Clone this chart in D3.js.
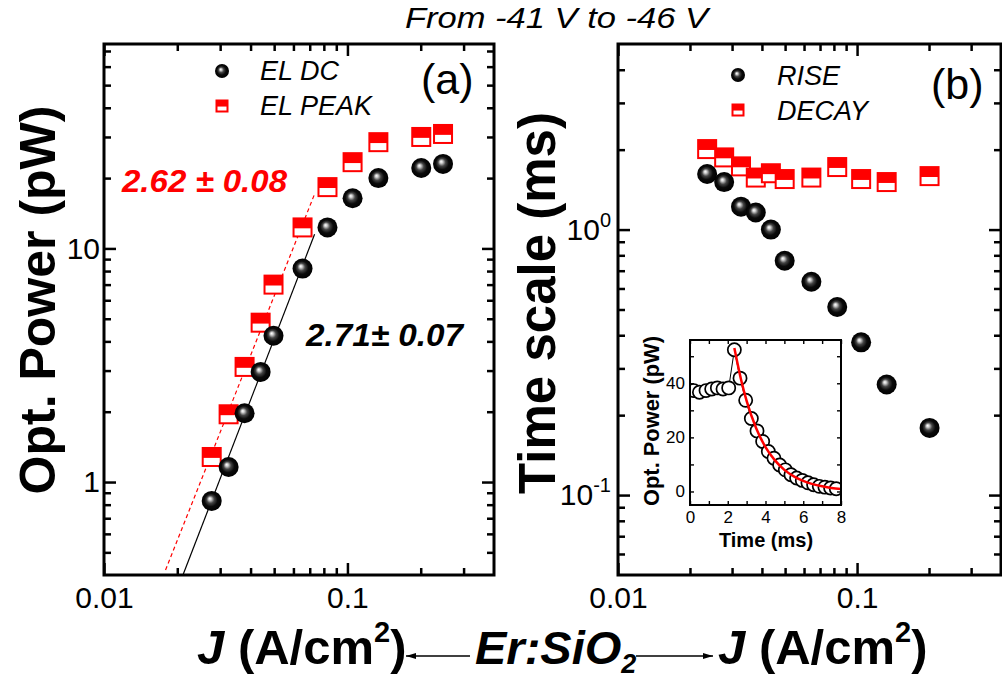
<!doctype html>
<html lang="en">
<head>
<meta charset="utf-8">
<script src="https://cdn.jsdelivr.net/npm/d3@7"></script>
<title>Er:SiO2 - EL power and time scales vs J</title>
<style>
  body { margin: 0; background: #fff; }
  svg { display: block; font-family: "Liberation Sans", Arial, Helvetica, sans-serif; }
  .frame { fill: none; stroke: #000; stroke-width: 3; }
  .ax .tick line { stroke: #000; stroke-width: 2.5; }
  .ax .tick text { font-size: 30px; fill: #000; font-family: "Liberation Sans", Arial, sans-serif; }
  .inax .tick line { stroke: #000; stroke-width: 1.4; }
  .inax .tick text { font-size: 17px; fill: #000; font-family: "Liberation Sans", Arial, sans-serif; }
</style>
</head>
<body>
<div id="chart"></div>
<script>
// ---- panel (a): optical power vs J
const jA     = [0.0277, 0.0325, 0.0378, 0.044, 0.0497, 0.0654, 0.0828, 0.105, 0.134, 0.201, 0.247];
const elDC   = [0.83, 1.16, 1.97, 2.96, 4.23, 8.2, 12.3, 16.4, 20.0, 22.1, 23.0];
const elPeak = [1.28, 1.95, 3.11, 4.81, 7.0, 12.3, 18.3, 23.4, 28.5, 30.0, 30.9];
// power-law fits, end points
const fitDC   = [[0.0211, 0.40], [0.0733, 11.5]];
const fitPeak = [[0.0179, 0.42], [0.0733, 17.1]];

// ---- panel (b): time scales vs J
const jB    = [0.0236, 0.0278, 0.0327, 0.0377, 0.0436, 0.0498, 0.0644, 0.0826, 0.104, 0.133, 0.201];
const rise  = [1.62, 1.51, 1.22, 1.16, 1.0, 0.763, 0.636, 0.511, 0.376, 0.261, 0.179];
const decay = [2.01, 1.87, 1.73, 1.57, 1.63, 1.55, 1.57, 1.72, 1.55, 1.51, 1.59];

// ---- inset: transient
const tIn = [0.2, 0.5, 0.85, 1.15, 1.45, 1.75, 2.05, 2.35, 2.65, 2.95, 3.25, 3.55, 3.85, 4.15,
             4.45, 4.75, 5.05, 5.35, 5.65, 5.95, 6.25, 6.55, 6.85, 7.15, 7.45, 7.75];
const pIn = [37.3, 36.7, 37.3, 37.9, 38.3, 37.9, 38.3, 52.4, 41.9, 33.7, 27.0, 22.4, 18.5, 14.8,
             12.3, 9.8, 8.0, 6.2, 5.0, 4.1, 3.2, 2.5, 1.9, 1.6, 1.3, 1.0];
const tFit = [2.35, 2.7, 3.0, 3.5, 4.0, 4.5, 5.0, 5.5, 6.0, 6.5, 7.0, 7.5, 8.0];
const pFit = [53, 41.5, 33.5, 23.5, 16.4, 11.5, 8.0, 5.6, 3.9, 2.7, 1.9, 1.3, 0.95];

// tick labels
const jLabels = [0.01, 0.1];
const aYLabels = [1, 10];
const bYLabels = [0.1, 1];
const inXLabels = [0, 2, 4, 6, 8];
const inYLabels = [0, 20, 40];

const RED = '#ff0000';
const W = 1002, H = 679;

const svg = d3.select('#chart').append('svg')
  .attr('width', W).attr('height', H);

const defs = svg.append('defs');
const grad = defs.append('radialGradient').attr('id', 'ball')
  .attr('cx', '50%').attr('cy', '50%').attr('r', '50%')
  .attr('fx', '40%').attr('fy', '38%');
grad.append('stop').attr('offset', '0%').attr('stop-color', '#ffffff');
grad.append('stop').attr('offset', '14%').attr('stop-color', '#d0d0d0');
grad.append('stop').attr('offset', '38%').attr('stop-color', '#444');
grad.append('stop').attr('offset', '65%').attr('stop-color', '#0a0a0a');
grad.append('stop').attr('offset', '100%').attr('stop-color', '#000');

// draws the boxed frame with inward ticks on all 4 sides
function logFrame(x, y, yFmt) {
  const [x0, x1] = x.range();
  const [y0, y1] = y.range();
  const inside = (v, s) => { const p = s(v); const r = s.range(); return Math.abs(p - r[0]) > 2 && Math.abs(p - r[1]) > 2; };
  const majX = jLabels, majY = yFmt.values;
  const minX = x.ticks().filter(d => !majX.includes(d) && inside(d, x));
  const minY = y.ticks().filter(d => !majY.some(m => Math.abs(m - d) < 1e-9) && inside(d, y));

  const g = svg.append('g').attr('class', 'ax');
  const add = (axis, tr) => g.append('g').attr('transform', tr).call(axis);

  add(d3.axisBottom(x).tickValues(majX).tickSizeInner(-12).tickSizeOuter(0).tickPadding(12).tickFormat(d3.format('')), `translate(0,${y0})`);
  add(d3.axisBottom(x).tickValues(minX).tickSizeInner(-7).tickSizeOuter(0).tickFormat(''), `translate(0,${y0})`);
  add(d3.axisTop(x).tickValues(majX).tickSizeInner(-12).tickSizeOuter(0).tickFormat(''), `translate(0,${y1})`);
  add(d3.axisTop(x).tickValues(minX).tickSizeInner(-7).tickSizeOuter(0).tickFormat(''), `translate(0,${y1})`);
  const left = add(d3.axisLeft(y).tickValues(majY).tickSizeInner(-12).tickSizeOuter(0).tickPadding(4).tickFormat(yFmt.fmt), `translate(${x0},0)`);
  add(d3.axisLeft(y).tickValues(minY).tickSizeInner(-7).tickSizeOuter(0).tickFormat(''), `translate(${x0},0)`);
  add(d3.axisRight(y).tickValues(majY).tickSizeInner(-12).tickSizeOuter(0).tickFormat(''), `translate(${x1},0)`);
  add(d3.axisRight(y).tickValues(minY).tickSizeInner(-7).tickSizeOuter(0).tickFormat(''), `translate(${x1},0)`);
  g.selectAll('.domain').remove();

  svg.append('rect').attr('class', 'frame')
    .attr('x', x0).attr('y', y1).attr('width', x1 - x0).attr('height', y0 - y1);
  return left;
}

function balls(g, x, y, xs, ys, r) {
  g.selectAll(null).data(xs.map((d, i) => [d, ys[i]])).enter()
    .append('circle')
    .attr('cx', d => x(d[0])).attr('cy', d => y(d[1])).attr('r', r)
    .attr('fill', 'url(#ball)');
}

function halfSquares(g, x, y, xs, ys, s) {
  const pts = xs.map((d, i) => [d, ys[i]]);
  const m = g.selectAll(null).data(pts).enter().append('g')
    .attr('transform', d => `translate(${x(d[0])},${y(d[1])})`);
  m.append('rect').attr('x', -s / 2).attr('y', -s / 2).attr('width', s).attr('height', s)
    .attr('fill', '#fff').attr('stroke', RED).attr('stroke-width', 2);
  m.append('rect').attr('x', -s / 2).attr('y', -s / 2).attr('width', s).attr('height', s * 0.55)
    .attr('fill', RED);
}

// ================= panel (a)
const xa = d3.scaleLog().domain([0.01, 0.4]).range([104, 494]);
const ya = d3.scaleLog().domain([0.4, 75]).range([575, 44]);
logFrame(xa, ya, { values: aYLabels, fmt: d3.format('') });

const ga = svg.append('g');
const lineA = d3.line().x(d => xa(d[0])).y(d => ya(d[1]));
ga.append('path').attr('d', lineA(fitPeak)).attr('fill', 'none')
  .attr('stroke', RED).attr('stroke-width', 1.2).attr('stroke-dasharray', '4,3');
ga.append('path').attr('d', lineA(fitDC)).attr('fill', 'none')
  .attr('stroke', '#000').attr('stroke-width', 1.2);
halfSquares(ga, xa, ya, jA, elPeak, 18);
balls(ga, xa, ya, jA, elDC, 10);

// legend (a)
ga.append('circle').attr('cx', 222).attr('cy', 71).attr('r', 7).attr('fill', 'url(#ball)');
halfSquares(ga, d => d, d => d, [222], [106], 11);
ga.append('text').attr('x', 260).attr('y', 80).attr('font-size', 27).attr('font-style', 'italic').text('EL DC');
ga.append('text').attr('x', 260).attr('y', 115).attr('font-size', 27).attr('font-style', 'italic').text('EL PEAK');
ga.append('text').attr('x', 421).attr('y', 94).attr('font-size', 43).text('(a)');

ga.append('text').attr('x', 122).attr('y', 192).attr('font-size', 32)
  .attr('font-weight', 'bold').attr('font-style', 'italic').attr('fill', RED)
  .attr('textLength', 165).attr('lengthAdjust', 'spacingAndGlyphs')
  .text('2.62 \u00b1 0.08');
ga.append('text').attr('x', 306).attr('y', 346).attr('font-size', 32)
  .attr('font-weight', 'bold').attr('font-style', 'italic')
  .attr('textLength', 157).attr('lengthAdjust', 'spacingAndGlyphs')
  .text('2.71\u00b1 0.07');

svg.append('text').attr('transform', 'translate(55,300) rotate(-90)')
  .attr('text-anchor', 'middle').attr('font-size', 50).attr('font-weight', 'bold')
  .text('Opt. Power (pW)');

// ================= panel (b)
const xb = d3.scaleLog().domain([0.01, 0.4]).range([618, 1001]);
const yb = d3.scaleLog().domain([0.05, 5]).range([575, 44]);
const leftB = logFrame(xb, yb, { values: bYLabels, fmt: () => '' });
leftB.selectAll('.tick text').each(function (d) {
  const t = d3.select(this).attr('x', -7);
  t.append('tspan').text('10');
  t.append('tspan').attr('dy', -13).attr('font-size', 20).text(Math.round(Math.log10(d)));
});

const gb = svg.append('g');
halfSquares(gb, xb, yb, jB, decay, 18);
balls(gb, xb, yb, jB, rise, 10);

gb.append('circle').attr('cx', 738).attr('cy', 75).attr('r', 7).attr('fill', 'url(#ball)');
halfSquares(gb, d => d, d => d, [738], [110], 11);
gb.append('text').attr('x', 777).attr('y', 85).attr('font-size', 27).attr('font-style', 'italic').text('RISE');
gb.append('text').attr('x', 777).attr('y', 120).attr('font-size', 27).attr('font-style', 'italic').text('DECAY');
gb.append('text').attr('x', 931).attr('y', 99).attr('font-size', 43).text('(b)');

svg.append('text').attr('transform', 'translate(555,303) rotate(-90)')
  .attr('text-anchor', 'middle').attr('font-size', 51).attr('font-weight', 'bold')
  .text('Time scale (ms)');

// ================= inset
const xi = d3.scaleLinear().domain([0, 8]).range([690, 841]);
const yi = d3.scaleLinear().domain([-5, 56]).range([505, 340]);
const gi = svg.append('g');
gi.append('rect').attr('x', 690).attr('y', 340).attr('width', 151).attr('height', 165).attr('fill', '#fff');
defs.append('clipPath').attr('id', 'inclip').append('rect')
  .attr('x', 690).attr('y', 340).attr('width', 151).attr('height', 165);

const inData = tIn.map((t, i) => [t, pIn[i]]);
const fitData = tFit.map((t, i) => [t, pFit[i]]);
const lineI = d3.line().x(d => xi(d[0])).y(d => yi(d[1]));
const gc = gi.append('g').attr('clip-path', 'url(#inclip)');
gc.append('path').attr('d', lineI(inData)).attr('fill', 'none').attr('stroke', '#000').attr('stroke-width', 1);
gc.selectAll(null).data(inData).enter().append('circle')
  .attr('cx', d => xi(d[0])).attr('cy', d => yi(d[1])).attr('r', 6.6)
  .attr('fill', '#fff').attr('stroke', '#000').attr('stroke-width', 1.7);
gc.append('path').attr('d', lineI.curve(d3.curveMonotoneX)(fitData)).attr('fill', 'none')
  .attr('stroke', RED).attr('stroke-width', 2.5);

const gia = gi.append('g').attr('class', 'inax');
const addI = (axis, tr) => gia.append('g').attr('transform', tr).call(axis);
addI(d3.axisBottom(xi).ticks(8).tickSizeInner(-4).tickSizeOuter(0).tickPadding(6)
  .tickFormat(d => inXLabels.includes(d) ? d : ''), 'translate(0,505)');
addI(d3.axisTop(xi).ticks(8).tickSizeInner(-4).tickSizeOuter(0).tickFormat(''), 'translate(0,340)');
addI(d3.axisLeft(yi).tickValues([0, 10, 20, 30, 40, 50]).tickSizeInner(-4).tickSizeOuter(0).tickPadding(5)
  .tickFormat(d => inYLabels.includes(d) ? d : ''), 'translate(690,0)');
addI(d3.axisRight(yi).tickValues([0, 10, 20, 30, 40, 50]).tickSizeInner(-4).tickSizeOuter(0).tickFormat(''), 'translate(841,0)');
gia.selectAll('.domain').remove();
gi.append('rect').attr('x', 690).attr('y', 340).attr('width', 151).attr('height', 165)
  .attr('fill', 'none').attr('stroke', '#000').attr('stroke-width', 2);
gi.append('text').attr('x', 766).attr('y', 547).attr('text-anchor', 'middle')
  .attr('font-size', 20).attr('font-weight', 'bold').text('Time (ms)');
gi.append('text').attr('transform', 'translate(659,421) rotate(-90)').attr('text-anchor', 'middle')
  .attr('font-size', 22).attr('font-weight', 'bold')
  .attr('textLength', 170).attr('lengthAdjust', 'spacingAndGlyphs')
  .text('Opt. Power (pW)');

// ================= titles
svg.append('text').attr('x', 405).attr('y', 28)
  .attr('font-size', 30).attr('font-style', 'italic')
  .attr('textLength', 303).attr('lengthAdjust', 'spacingAndGlyphs')
  .text('From -41 V to -46 V');

function jTitle(x0) {
  const t = svg.append('text').attr('x', x0).attr('y', 664).attr('font-size', 49).attr('font-weight', 'bold');
  t.append('tspan').attr('font-style', 'italic').text('J');
  t.append('tspan').text(' (A/cm');
  t.append('tspan').attr('dy', -22).attr('font-size', 29).text('2');
  t.append('tspan').attr('dy', 22).text(')');
}
jTitle(197);
jTitle(718);

const er = svg.append('text').attr('x', 475).attr('y', 664).attr('font-size', 47)
  .attr('font-weight', 'bold').attr('font-style', 'italic');
er.append('tspan').text('Er:SiO');
er.append('tspan').attr('dy', 9).attr('font-size', 27).text('2');

defs.append('marker').attr('id', 'head').attr('viewBox', '0 0 10 6')
  .attr('refX', 10).attr('refY', 3).attr('markerWidth', 10).attr('markerHeight', 6)
  .attr('markerUnits', 'userSpaceOnUse').attr('orient', 'auto')
  .append('path').attr('d', 'M0,0 L10,3 L0,6 Z').attr('fill', '#000');
svg.append('line').attr('x1', 470).attr('y1', 656).attr('x2', 406).attr('y2', 656)
  .attr('stroke', '#000').attr('stroke-width', 1.5).attr('marker-end', 'url(#head)');
svg.append('line').attr('x1', 636).attr('y1', 656).attr('x2', 713).attr('y2', 656)
  .attr('stroke', '#000').attr('stroke-width', 1.5).attr('marker-end', 'url(#head)');
</script>
</body>
</html>
